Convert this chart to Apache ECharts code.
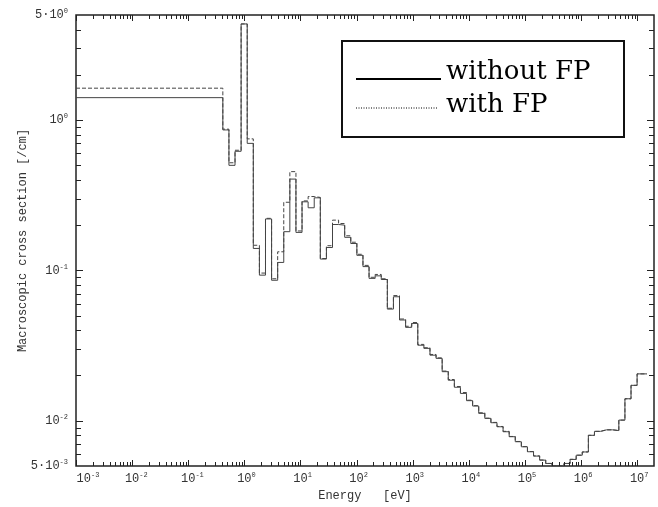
<!DOCTYPE html>
<html><head><meta charset="utf-8">
<script src="https://cdn.jsdelivr.net/npm/echarts@6/dist/echarts.min.js"></script>
<style>html,body{margin:0;padding:0;background:#fff}#c{width:658px;height:507px}</style>
</head><body><div id="c"></div>
<script>
// Lower energy bound of each group [eV] (thermal group shown from the axis start)
const groupLowerEnergy = [
  1e-3, 0.41399, 0.53158, 0.68256, 0.87642, 1.1254, 1.4450, 1.8554, 2.3824, 3.0590,
  3.9279, 5.0435, 6.4760, 8.3153, 10.677, 13.710, 17.603, 22.603, 29.023, 37.267,
  47.851, 61.442, 78.893, 101.30, 130.07, 167.02, 214.45, 275.36, 353.57, 454.00,
  582.95, 748.52, 961.12, 1234.1, 1584.6, 2034.7, 2612.6, 3354.6, 4307.4, 5530.8,
  7101.7, 9118.8, 11709, 15034, 19305, 24788, 31828, 40868, 52475, 67379,
  86517, 111090, 142640, 183160, 235180, 301970, 387740, 497870, 639280, 820850,
  1054000, 1353400, 1737700, 2231300, 2865000, 3678800, 4723700, 6065300, 7788000, 10000000
];
const topEnergy = 14918000;
// Macroscopic cross section [/cm]
const sigmaWithoutFP = [
  1.41, 0.86, 0.50, 0.62, 4.36, 0.70, 0.140, 0.093, 0.22, 0.086,
  0.113, 0.181, 0.405, 0.179, 0.286, 0.261, 0.304, 0.119, 0.142, 0.202,
  0.200, 0.166, 0.151, 0.126, 0.106, 0.0885, 0.092, 0.087, 0.0553, 0.0668,
  0.0468, 0.0418, 0.0444, 0.0318, 0.0303, 0.0273, 0.0260, 0.0212, 0.0186, 0.0167,
  0.0152, 0.0136, 0.01253, 0.0112, 0.01037, 0.0097, 0.00912, 0.00845, 0.00783, 0.00725,
  0.00671, 0.00622, 0.00582, 0.00547, 0.0052, 0.00502, 0.00500, 0.0052, 0.00553, 0.0059,
  0.0062, 0.0080, 0.0085, 0.0087, 0.0087, 0.0086, 0.0101, 0.0140, 0.0172, 0.0205
];
const sigmaWithFP = [
  1.63, 0.87, 0.52, 0.63, 4.36, 0.75, 0.147, 0.096, 0.222, 0.088,
  0.133, 0.284, 0.454, 0.183, 0.290, 0.310, 0.306, 0.120, 0.146, 0.216,
  0.205, 0.170, 0.154, 0.128, 0.108, 0.0900, 0.094, 0.088, 0.0560, 0.0680,
  0.0475, 0.0425, 0.0450, 0.0322, 0.0306, 0.0276, 0.0262, 0.0214, 0.0188, 0.0169,
  0.0154, 0.0137, 0.0126, 0.0113, 0.0104, 0.00975, 0.00916, 0.0085, 0.00786, 0.00728,
  0.00673, 0.00624, 0.00584, 0.00548, 0.0052, 0.00503, 0.00501, 0.0052, 0.00554, 0.0059,
  0.0062, 0.0080, 0.0085, 0.0087, 0.0087, 0.0086, 0.0101, 0.0140, 0.0172, 0.0205
];
// Axis ranges and ticks
const X_MIN = 1e-3, X_MAX = 2e7;
const Y_MIN = 5e-3, Y_MAX = 5;
const xDecadeExponents = [-3, -2, -1, 0, 1, 2, 3, 4, 5, 6, 7];
const minorMultipliers = [2, 3, 4, 5, 6, 7, 8, 9];
const yMajorTickValues = [0.01, 0.1, 1];
const yMinorTickValues = [0.006, 0.007, 0.008, 0.009,
  0.02, 0.03, 0.04, 0.05, 0.06, 0.07, 0.08, 0.09,
  0.2, 0.3, 0.4, 0.5, 0.6, 0.7, 0.8, 0.9, 2, 3, 4];
const legendNames = ['without FP', 'with FP'];

function stepPoints(vals) {
  const pts = groupLowerEnergy.map((e, i) => [e, vals[i]]);
  pts.push([topEnergy, vals[vals.length - 1]]);
  return pts;
}

const xTickData = [];
xDecadeExponents.forEach(d => {
  xTickData.push([Math.pow(10, d), Y_MIN, 1]);
  minorMultipliers.forEach(m => {
    const v = m * Math.pow(10, d);
    if (v < X_MAX) xTickData.push([v, Y_MIN, 0]);
  });
});
const yTickData = yMajorTickValues.map(v => [X_MIN, v, 1])
  .concat(yMinorTickValues.map(v => [X_MIN, v, 0]));

const TICK_COLOR = '#222';
function px(v) { return Math.round(v) + 0.5; }
function renderXTick(params, api) {
  const v = api.value(0), major = api.value(2);
  const len = major ? 6 : 4;
  const b = api.coord([v, Y_MIN]), t = api.coord([v, Y_MAX]);
  const x = px(b[0]);
  return { type: 'group', children: [
    { type: 'line', shape: { x1: x, y1: b[1], x2: x, y2: b[1] - len }, style: { stroke: TICK_COLOR, lineWidth: 1 } },
    { type: 'line', shape: { x1: x, y1: t[1], x2: x, y2: t[1] + len }, style: { stroke: TICK_COLOR, lineWidth: 1 } }
  ] };
}
function renderYTick(params, api) {
  const v = api.value(1), major = api.value(2);
  const len = major ? 7 : 5;
  const l = api.coord([X_MIN, v]), r = api.coord([X_MAX, v]);
  const y = px(l[1]);
  return { type: 'group', children: [
    { type: 'line', shape: { x1: l[0], y1: y, x2: l[0] + len, y2: y }, style: { stroke: TICK_COLOR, lineWidth: 1 } },
    { type: 'line', shape: { x1: r[0], y1: y, x2: r[0] - len, y2: y }, style: { stroke: TICK_COLOR, lineWidth: 1 } }
  ] };
}

function xLabel(v) {
  const l = Math.log10(v);
  const e = Math.round(l);
  if (Math.abs(l - e) > 1e-6) return '';
  // base "10" centred on the tick, exponent hanging to the right
  const pad = (e === xDecadeExponents[0]) ? '{w| }' : '{h|' + e + '}';
  return pad + '{n|10}{s|' + e + '}';
}
function yLabel(v) {
  const l = Math.log10(v);
  const e = Math.round(l);
  if (Math.abs(l - e) < 1e-6) return '{n|10}{s|' + e + '}';
  const f = Math.floor(l + 1e-9);
  const m = Math.round(v / Math.pow(10, f));
  return '{n|' + m + '·10}{s|' + f + '}';
}
const MONO = '"Liberation Mono", "DejaVu Sans Mono", monospace';
const labelRich = {
  n: { fontFamily: MONO, fontSize: 12, color: '#333', lineHeight: 14 },
  s: { fontFamily: MONO, fontSize: 7, color: '#333', lineHeight: 7, verticalAlign: 'top' },
  h: { fontFamily: MONO, fontSize: 7, color: 'rgba(0,0,0,0)', lineHeight: 7, verticalAlign: 'top' },
  w: { fontFamily: MONO, fontSize: 7, width: 24, color: 'rgba(0,0,0,0)' }
};

const chart = echarts.init(document.getElementById('c'), null, { renderer: 'canvas' });
chart.setOption({
  animation: false,
  backgroundColor: '#fff',
  grid: { left: 76, right: 4, top: 15, bottom: 41, show: true, borderColor: '#222', borderWidth: 1.5, containLabel: false },
  xAxis: {
    type: 'log', logBase: 10, min: X_MIN, max: X_MAX, interval: 1,
    name: 'Energy   [eV]', nameLocation: 'middle', nameGap: 24, nameMoveOverlap: false,
    nameTextStyle: { fontFamily: MONO, fontSize: 12, color: '#333' },
    axisLine: { show: false }, axisTick: { show: false }, splitLine: { show: false },
    axisLabel: { margin: 6, formatter: xLabel, rich: labelRich }
  },
  yAxis: {
    type: 'log', logBase: 10, min: Y_MIN, max: Y_MAX,
    name: 'Macroscopic cross section [/cm]', nameLocation: 'middle', nameGap: 47, nameMoveOverlap: false,
    nameTextStyle: { fontFamily: MONO, fontSize: 12, color: '#333' },
    axisLine: { show: false }, axisTick: { show: false }, splitLine: { show: false },
    axisLabel: { margin: 8, formatter: yLabel, rich: labelRich }
  },
  series: [
    { name: legendNames[1], type: 'line', step: 'end', data: stepPoints(sigmaWithFP), showSymbol: false, symbol: 'none',
      lineStyle: { color: '#444', width: 1, type: [4, 2] }, silent: true, z: 2 },
    { name: legendNames[0], type: 'line', step: 'end', data: stepPoints(sigmaWithoutFP), showSymbol: false, symbol: 'none',
      lineStyle: { color: '#444', width: 1, type: 'solid' }, silent: true, z: 3 },
    { type: 'custom', renderItem: renderXTick, data: xTickData, silent: true, z: 4 },
    { type: 'custom', renderItem: renderYTick, data: yTickData, silent: true, z: 4 }
  ],
  graphic: [
    { type: 'rect', shape: { x: 342, y: 41, width: 282, height: 96 }, style: { fill: '#fff', stroke: '#111', lineWidth: 2 }, z: 10 },
    { type: 'line', shape: { x1: 356, y1: 79, x2: 441, y2: 79 }, style: { stroke: '#000', lineWidth: 2 }, z: 11 },
    { type: 'text', x: 446, y: 85, style: { text: legendNames[0], font: '26px "DejaVu Serif"', fill: '#000', verticalAlign: 'bottom' }, z: 11 },
    { type: 'line', shape: { x1: 356, y1: 108, x2: 438, y2: 108 }, style: { stroke: '#000', lineWidth: 1, lineDash: [1, 1.5] }, z: 11 },
    { type: 'text', x: 446, y: 118.5, style: { text: legendNames[1], font: '26px "DejaVu Serif"', fill: '#000', verticalAlign: 'bottom' }, z: 11 }
  ]
});
</script>
</body></html>
